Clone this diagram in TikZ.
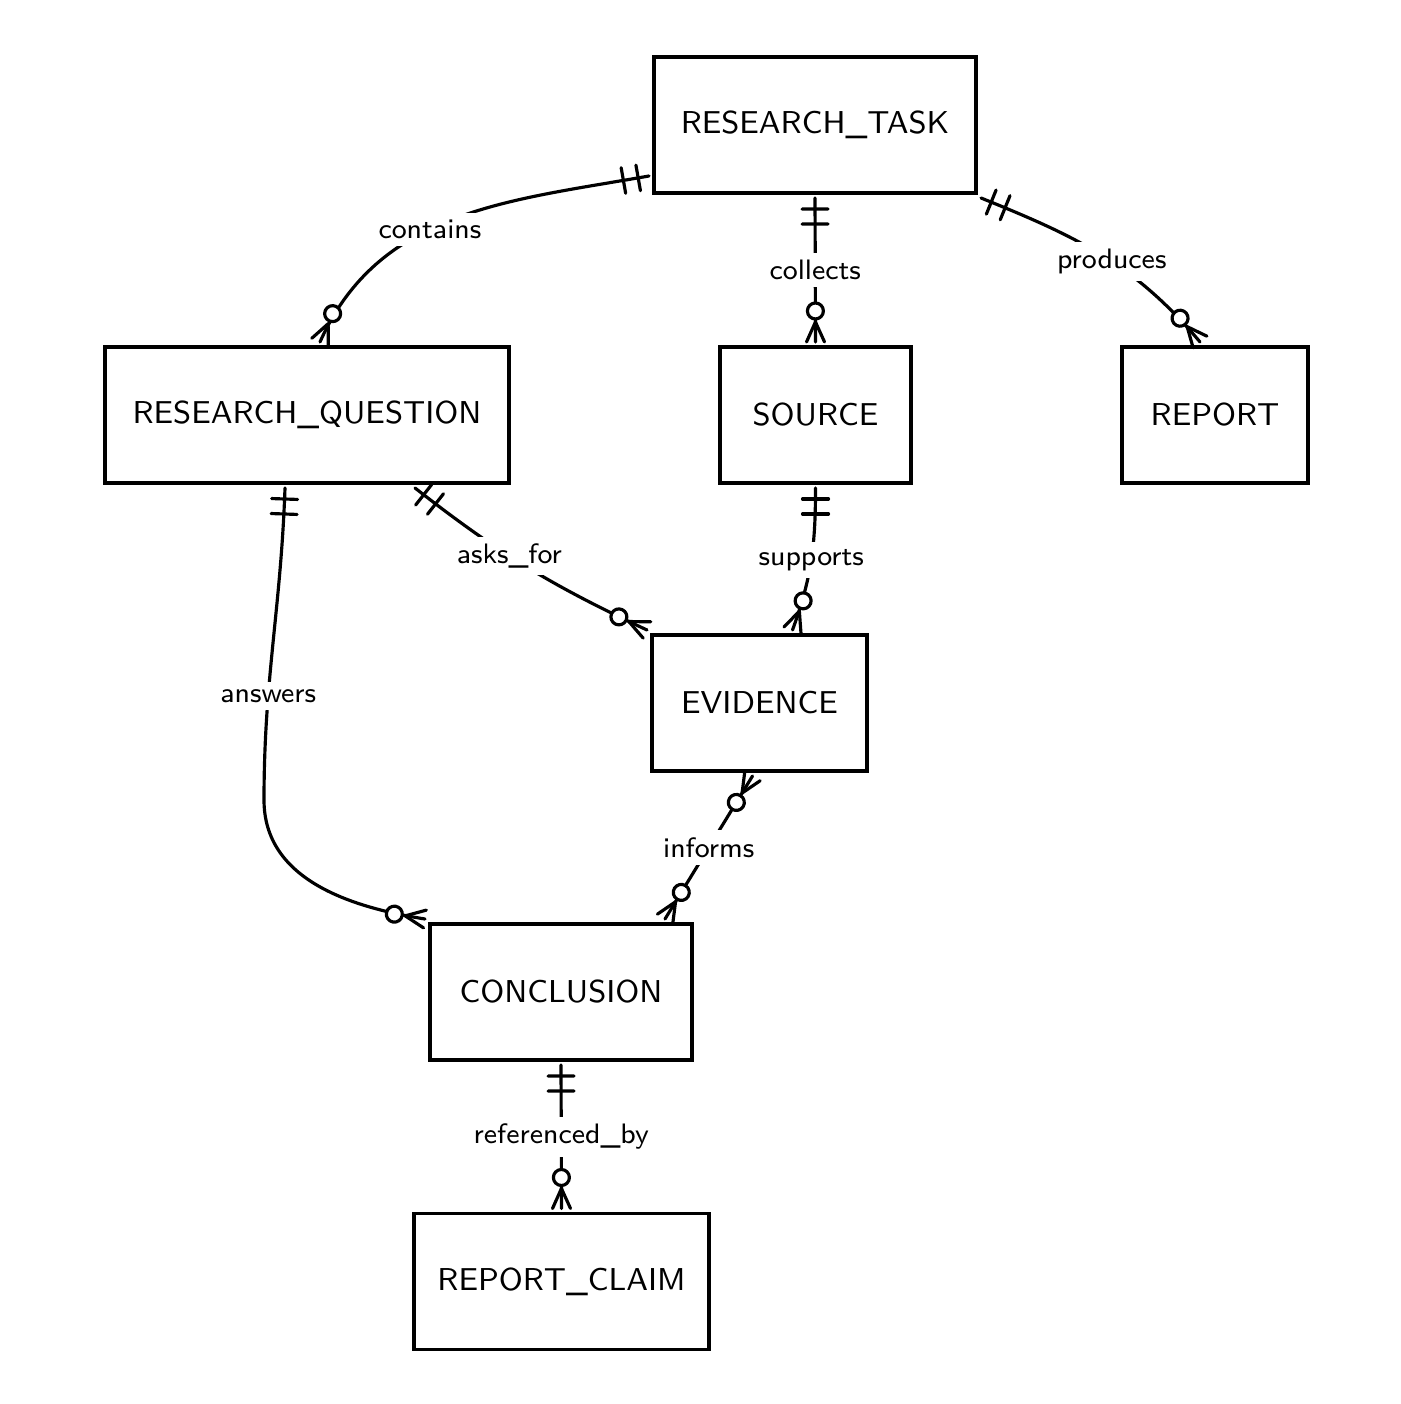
\documentclass[tikz,border=0pt]{standalone}
\usetikzlibrary{decorations.markings}
\begin{document}
\begin{tikzpicture}
\tikzset{entite/.style={draw, line width=1pt, inner sep=0pt, outer sep=0.05cm, minimum height=1.36cm, font=\sffamily\fontsize{9}{11}\selectfont}}
\tikzset{lien/.style={line width=0.9pt, line cap=round, line join=round}}
\tikzset{etiq/.style={fill=white, inner sep=2pt, font=\sffamily\fontsize{8}{10}\selectfont}}
\tikzset{undebut/.style={postaction={decorate, decoration={markings, mark=at position 0 with {\draw[lien] (0.11,-0.13) -- (0.11,0.13) (0.26,-0.13) -- (0.26,0.13);}}}}}
\tikzset{plusfin/.style={postaction={decorate, decoration={markings, mark=at position 0.9999 with {\draw[lien] (0,0.09) -- (-0.2,0) -- (0,-0.09); \draw[lien, fill=white] (-0.31,0) circle (0.08);}}}}}
\tikzset{plusdebut/.style={postaction={decorate, decoration={markings, mark=at position 0 with {\draw[lien] (0,0.09) -- (0.2,0) -- (0,-0.09); \draw[lien, fill=white] (0.31,0) circle (0.08);}}}}}
\useasboundingbox (0,0) rectangle (14,-14.04);
\node[entite, minimum width=3.22cm] (tache) at (8.15,-1.25) {RESEARCH\_TASK};
\node[entite, minimum width=4.04cm] (question) at (3.07,-4.15) {RESEARCH\_QUESTION};
\node[entite, minimum width=1.91cm] (source) at (8.155,-4.15) {SOURCE};
\node[entite, minimum width=1.86cm] (rapport) at (12.15,-4.15) {REPORT};
\node[entite, minimum width=2.15cm] (preuve) at (7.595,-7.03) {EVIDENCE};
\node[entite, minimum width=2.62cm] (conclusion) at (5.61,-9.92) {CONCLUSION};
\node[entite, minimum width=2.95cm] (affirmation) at (5.615,-12.815) {REPORT\_CLAIM};
\draw[lien, undebut, plusfin] ([yshift=-0.51cm]tache.west) to[out=190, in=66] node[etiq, pos=0.57] {contains} ([xshift=0.13cm]question.north);
\draw[lien, undebut, plusfin] (tache.south) -- node[etiq] {collects} (source.north);
\draw[lien, undebut, plusfin] (tache.south east) to[out=-22, in=130] node[etiq, pos=0.55] {produces} ([xshift=-0.15cm]rapport.north);
\draw[lien, undebut, plusfin] ([xshift=1.08cm]question.south) to[out=-38, in=155] node[etiq, pos=0.42] {asks\_for} (preuve.north west);
\draw[lien, undebut, plusfin] (source.south) to[out=270, in=70] node[etiq, pos=0.5] {supports} ([xshift=0.33cm]preuve.north);
\draw[lien, undebut, plusfin] ([xshift=-0.22cm]question.south) to[out=268, in=90] node[etiq, pos=0.68] {answers} (2.64,-8.0) to[out=270, in=171] (conclusion.north west);
\draw[lien, plusdebut, plusfin] ([xshift=-0.07cm]preuve.south) -- node[etiq] {informs} ([xshift=1.04cm]conclusion.north);
\draw[lien, undebut, plusfin] (conclusion.south) -- node[etiq] {referenced\_by} (affirmation.north);
\end{tikzpicture}
\end{document}
